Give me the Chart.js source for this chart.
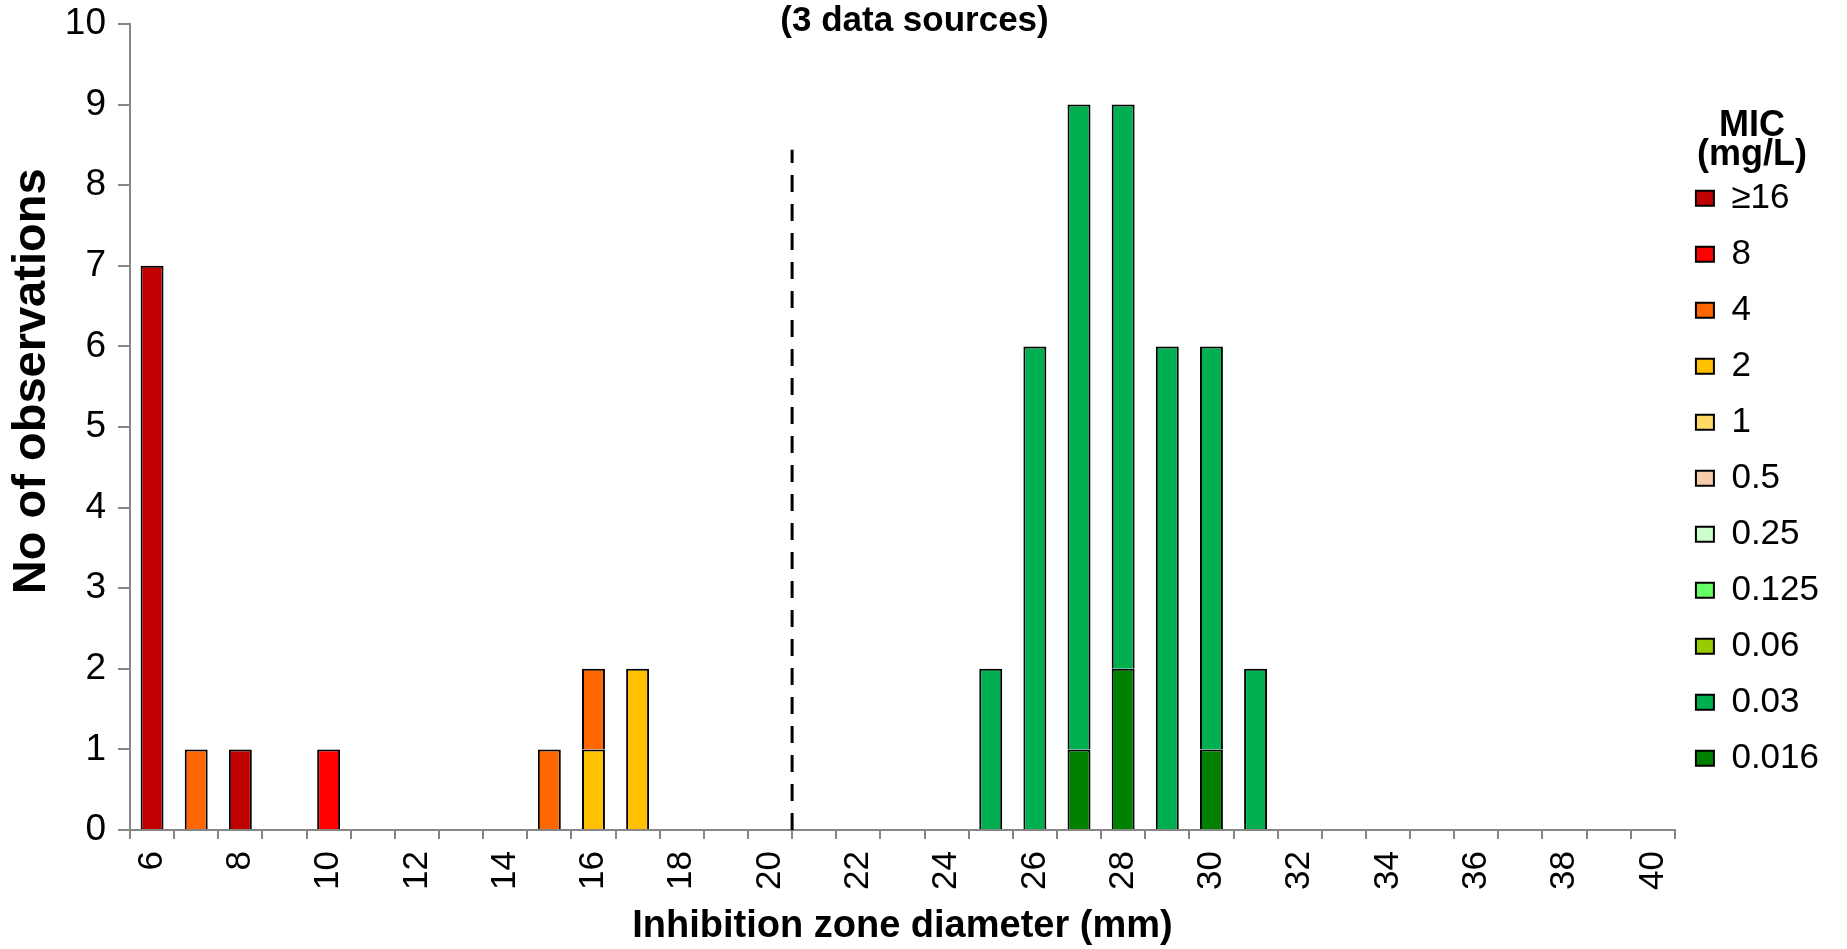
<!DOCTYPE html>
<html>
<head>
<meta charset="utf-8">
<title>MIC vs inhibition zone</title>
<script src="https://cdn.jsdelivr.net/npm/chart.js@4.4.1/dist/chart.umd.min.js"></script>
<style>
    html, body { margin: 0; padding: 0; background: #fff; }
    #wrap { width: 1847px; height: 949px; }
</style>
</head>
<body>
<div id="wrap"><canvas id="micChart"></canvas></div>
<script>
// Inhibition zone diameters (mm), one category each
const diameters = [6, 7, 8, 9, 10, 11, 12, 13, 14, 15, 16, 17, 18, 19, 20, 21, 22, 23,
    24, 25, 26, 27, 28, 29, 30, 31, 32, 33, 34, 35, 36, 37, 38, 39, 40];

// Counts per MIC class (mg/L), same order as diameters
const mic16   = [7,0,1,0,0, 0,0,0,0,0, 0,0,0,0,0, 0,0,0,0,0, 0,0,0,0,0, 0,0,0,0,0, 0,0,0,0,0];
const mic8    = [0,0,0,0,1, 0,0,0,0,0, 0,0,0,0,0, 0,0,0,0,0, 0,0,0,0,0, 0,0,0,0,0, 0,0,0,0,0];
const mic4    = [0,1,0,0,0, 0,0,0,0,1, 1,0,0,0,0, 0,0,0,0,0, 0,0,0,0,0, 0,0,0,0,0, 0,0,0,0,0];
const mic2    = [0,0,0,0,0, 0,0,0,0,0, 1,2,0,0,0, 0,0,0,0,0, 0,0,0,0,0, 0,0,0,0,0, 0,0,0,0,0];
const mic1    = [0,0,0,0,0, 0,0,0,0,0, 0,0,0,0,0, 0,0,0,0,0, 0,0,0,0,0, 0,0,0,0,0, 0,0,0,0,0];
const mic05   = [0,0,0,0,0, 0,0,0,0,0, 0,0,0,0,0, 0,0,0,0,0, 0,0,0,0,0, 0,0,0,0,0, 0,0,0,0,0];
const mic025  = [0,0,0,0,0, 0,0,0,0,0, 0,0,0,0,0, 0,0,0,0,0, 0,0,0,0,0, 0,0,0,0,0, 0,0,0,0,0];
const mic0125 = [0,0,0,0,0, 0,0,0,0,0, 0,0,0,0,0, 0,0,0,0,0, 0,0,0,0,0, 0,0,0,0,0, 0,0,0,0,0];
const mic006  = [0,0,0,0,0, 0,0,0,0,0, 0,0,0,0,0, 0,0,0,0,0, 0,0,0,0,0, 0,0,0,0,0, 0,0,0,0,0];
const mic003  = [0,0,0,0,0, 0,0,0,0,0, 0,0,0,0,0, 0,0,0,0,2, 6,8,7,6,5, 2,0,0,0,0, 0,0,0,0,0];
const mic0016 = [0,0,0,0,0, 0,0,0,0,0, 0,0,0,0,0, 0,0,0,0,0, 0,1,2,0,1, 0,0,0,0,0, 0,0,0,0,0];

// Stacking order, bottom to top (legend is shown reversed)
const micLabels = ['0.016', '0.03', '0.06', '0.125', '0.25', '0.5', '1', '2', '4', '8', '\u226516'];
const micSeries = [mic0016, mic003, mic006, mic0125, mic025, mic05, mic1, mic2, mic4, mic8, mic16];
const micColors = ['#008000', '#00B050', '#99CC00', '#66FF66', '#CCFFCC', '#F8CBAD',
    '#FFD966', '#FFC000', '#FF6600', '#FF0000', '#C00000'];

// Dashed breakpoint line (between 20 and 21 mm)
const cutoffX = [20.5, 20.5];
const cutoffY = [0, 8.44];

Chart.defaults.font.family = "'Liberation Sans', Arial, sans-serif";
Chart.defaults.color = '#000';

const AXIS_GREY = '#868686';

const barSets = micLabels.map((label, i) => ({
    label: label,
    data: micSeries[i],
    backgroundColor: micColors[i],
    borderColor: '#000',
    borderWidth: 2,
    grouped: false,
    barPercentage: 0.52,
    categoryPercentage: 1.0
}));

const cutoffSet = {
    type: 'line',
    label: 'breakpoint',
    xAxisID: 'xLine',
    data: cutoffX.map((x, i) => ({ x: x, y: cutoffY[i] })),
    borderColor: '#000',
    borderWidth: 3,
    borderDash: [17, 12],
    pointRadius: 0,
    fill: false
};

new Chart(document.getElementById('micChart'), {
    type: 'bar',
    data: {
        labels: diameters,
        datasets: [...barSets, cutoffSet]
    },
    options: {
        responsive: true,
        maintainAspectRatio: false,
        animation: false,
        layout: { padding: { top: 3, right: 18, bottom: 0, left: 0 } },
        plugins: {
            title: {
                display: true,
                text: '(3 data sources)',
                font: { size: 35, weight: 'bold' },
                padding: { top: -23, bottom: -18 }
            },
            legend: {
                position: 'right',
                align: 'start',
                reverse: true,
                title: {
                    display: true,
                    text: ['MIC', '(mg/L)'],
                    font: { size: 36, weight: 'bold', lineHeight: 0.8 },
                    padding: { top: 105, bottom: 23 }
                },
                labels: {
                    font: { size: 35 },
                    boxWidth: 18,
                    boxHeight: 15,
                    padding: 21,
                    filter: item => item.datasetIndex < micLabels.length
                }
            },
            tooltip: { enabled: false }
        },
        scales: {
            x: {
                stacked: true,
                grid: {
                    offset: true,
                    drawOnChartArea: false,
                    tickLength: 9,
                    color: AXIS_GREY,
                    lineWidth: 2
                },
                border: { color: AXIS_GREY, width: 2 },
                ticks: {
                    autoSkip: false,
                    minRotation: 90,
                    maxRotation: 90,
                    padding: 12,
                    font: { size: 35 },
                    callback: (val, i) => (diameters[i] % 2 === 0 ? diameters[i] : '')
                },
                title: {
                    display: true,
                    text: 'Inhibition zone diameter (mm)',
                    font: { size: 38, weight: 'bold' },
                    padding: { top: 0, bottom: 0 }
                },
                afterFit: scale => { scale.height = 119; }
            },
            xLine: {
                type: 'linear',
                display: false,
                offset: false,
                min: 5.5,
                max: 40.5
            },
            y: {
                stacked: true,
                min: 0,
                max: 10,
                grid: {
                    drawOnChartArea: false,
                    tickLength: 12,
                    color: AXIS_GREY,
                    lineWidth: 2
                },
                border: { color: AXIS_GREY, width: 2 },
                ticks: {
                    stepSize: 1,
                    padding: 12,
                    font: { size: 37, lineHeight: 0.65 }
                },
                title: {
                    display: true,
                    // leading spaces lift the visible text above the axis centre, as in the original
                    text: '       No of observations',
                    font: { size: 47, weight: 'bold' },
                    padding: { top: 4, bottom: 0 }
                },
                afterFit: scale => { scale.width = 130; }
            }
        }
    }
});
</script>
</body>
</html>
